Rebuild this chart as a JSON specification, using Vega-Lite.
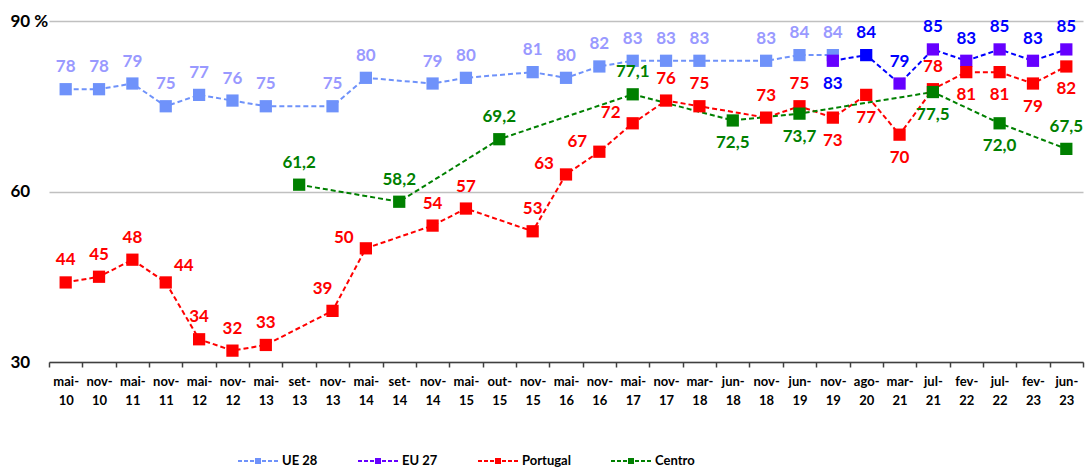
{
  "$schema": "https://vega.github.io/schema/vega-lite/v6.json",
  "width": 1034,
  "height": 341,
  "autosize": "none",
  "padding": {"left": 49, "top": 21, "right": 2, "bottom": 107},
  "background": "white",
  "config": {"view": {"stroke": null}, "font": "Lato"},
  "data": {"values": [
    {"series": "UE 28", "period": "mai-10", "value": 78},
    {"series": "UE 28", "period": "nov-10", "value": 78},
    {"series": "UE 28", "period": "mai-11", "value": 79},
    {"series": "UE 28", "period": "nov-11", "value": 75},
    {"series": "UE 28", "period": "mai-12", "value": 77},
    {"series": "UE 28", "period": "nov-12", "value": 76},
    {"series": "UE 28", "period": "mai-13", "value": 75},
    {"series": "UE 28", "period": "nov-13", "value": 75},
    {"series": "UE 28", "period": "mai-14", "value": 80},
    {"series": "UE 28", "period": "nov-14", "value": 79},
    {"series": "UE 28", "period": "mai-15", "value": 80},
    {"series": "UE 28", "period": "nov-15", "value": 81},
    {"series": "UE 28", "period": "mai-16", "value": 80},
    {"series": "UE 28", "period": "nov-16", "value": 82},
    {"series": "UE 28", "period": "mai-17", "value": 83},
    {"series": "UE 28", "period": "nov-17", "value": 83},
    {"series": "UE 28", "period": "mar-18", "value": 83},
    {"series": "UE 28", "period": "nov-18", "value": 83},
    {"series": "UE 28", "period": "jun-19", "value": 84},
    {"series": "UE 28", "period": "nov-19", "value": 84},
    {"series": "EU 27", "period": "nov-19", "value": 83},
    {"series": "EU 27", "period": "ago-20", "value": 84},
    {"series": "EU 27", "period": "mar-21", "value": 79},
    {"series": "EU 27", "period": "jul-21", "value": 85},
    {"series": "EU 27", "period": "fev-22", "value": 83},
    {"series": "EU 27", "period": "jul-22", "value": 85},
    {"series": "EU 27", "period": "fev-23", "value": 83},
    {"series": "EU 27", "period": "jun-23", "value": 85},
    {"series": "Portugal", "period": "mai-10", "value": 44},
    {"series": "Portugal", "period": "nov-10", "value": 45},
    {"series": "Portugal", "period": "mai-11", "value": 48},
    {"series": "Portugal", "period": "nov-11", "value": 44},
    {"series": "Portugal", "period": "mai-12", "value": 34},
    {"series": "Portugal", "period": "nov-12", "value": 32},
    {"series": "Portugal", "period": "mai-13", "value": 33},
    {"series": "Portugal", "period": "nov-13", "value": 39},
    {"series": "Portugal", "period": "mai-14", "value": 50},
    {"series": "Portugal", "period": "nov-14", "value": 54},
    {"series": "Portugal", "period": "mai-15", "value": 57},
    {"series": "Portugal", "period": "nov-15", "value": 53},
    {"series": "Portugal", "period": "mai-16", "value": 63},
    {"series": "Portugal", "period": "nov-16", "value": 67},
    {"series": "Portugal", "period": "mai-17", "value": 72},
    {"series": "Portugal", "period": "nov-17", "value": 76},
    {"series": "Portugal", "period": "mar-18", "value": 75},
    {"series": "Portugal", "period": "nov-18", "value": 73},
    {"series": "Portugal", "period": "jun-19", "value": 75},
    {"series": "Portugal", "period": "nov-19", "value": 73},
    {"series": "Portugal", "period": "ago-20", "value": 77},
    {"series": "Portugal", "period": "mar-21", "value": 70},
    {"series": "Portugal", "period": "jul-21", "value": 78},
    {"series": "Portugal", "period": "fev-22", "value": 81},
    {"series": "Portugal", "period": "jul-22", "value": 81},
    {"series": "Portugal", "period": "fev-23", "value": 79},
    {"series": "Portugal", "period": "jun-23", "value": 82},
    {"series": "Centro", "period": "set-13", "value": 61.2},
    {"series": "Centro", "period": "set-14", "value": 58.2},
    {"series": "Centro", "period": "out-15", "value": 69.2},
    {"series": "Centro", "period": "mai-17", "value": 77.1},
    {"series": "Centro", "period": "jun-18", "value": 72.5},
    {"series": "Centro", "period": "jun-19", "value": 73.7},
    {"series": "Centro", "period": "jul-21", "value": 77.5},
    {"series": "Centro", "period": "jul-22", "value": 72.0},
    {"series": "Centro", "period": "jun-23", "value": 67.5}
  ]},
  "transform": [
    {"calculate": "datum.series + '|' + datum.period", "as": "key"},
    {"calculate": "datum.series == 'Centro' ? replace(format(datum.value, '.1f'), '.', ',') : format(datum.value, 'd')", "as": "lbl"}
  ],
  "encoding": {
    "x": {
      "field": "period", "type": "ordinal",
      "scale": {"type": "band", "paddingInner": 0, "paddingOuter": 0,
        "domain": ["mai-10","nov-10","mai-11","nov-11","mai-12","nov-12","mai-13","set-13","nov-13","mai-14","set-14","nov-14","mai-15","out-15","nov-15","mai-16","nov-16","mai-17","nov-17","mar-18","jun-18","nov-18","jun-19","nov-19","ago-20","mar-21","jul-21","fev-22","jul-22","fev-23","jun-23"]},
      "axis": {"title": null, "labelAngle": 0,
        "labelExpr": "datum.label ? [split(datum.label, '-')[0] + '-', split(datum.label, '-')[1]] : ''",
        "labelFont": "Lato", "labelFontSize": 13, "labelFontWeight": "bold", "labelColor": "#000000",
        "labelLineHeight": 19, "labelPadding": 8, "labelBaseline": "top", "labelAlign": "center",
        "labelFlush": false, "labelOverlap": false, "labelBound": false,
        "tickBand": "extent", "tickSize": 5, "tickColor": "#404040", "tickWidth": 1.5,
        "domainColor": "#404040", "domainWidth": 1.5, "grid": false}
    },
    "y": {
      "field": "value", "type": "quantitative",
      "scale": {"domain": [30, 90], "nice": false, "zero": false},
      "axis": {"title": null, "values": [30, 60, 90],
        "labelExpr": "datum.value == 90 ? '90 %' : datum.label",
        "labelFont": "Lato", "labelFontSize": 17, "labelFontWeight": "bold", "labelColor": "#000000",
        "labelAlign": "left", "labelPadding": 39, "ticks": false, "tickSize": 0, "domain": false,
        "grid": true, "gridColor": "#C0C0C0", "gridWidth": 1.3}
    }
  },
  "layer": [
    {
      "mark": {"type": "line", "strokeDash": [5, 3], "strokeWidth": 2},
      "encoding": {"color": {"field": "series", "type": "nominal",
        "scale": {"domain": ["UE 28", "EU 27", "Portugal", "Centro"], "range": ["#6F92FA", "#0000FF", "#FF0000", "#008000"]},
        "legend": null}}
    },
    {
      "mark": {"type": "point", "shape": "square", "filled": true, "size": 150, "opacity": 1},
      "encoding": {"color": {
        "condition": {"test": "datum.key == 'EU 27|ago-20'", "value": "#0000FF"},
        "field": "series", "type": "nominal",
        "scale": {"domain": ["UE 28", "EU 27", "Portugal", "Centro"], "range": ["#6F92FA", "#6600FF", "#FF0000", "#008000"]},
        "legend": {"title": null, "orient": "none", "legendX": 189, "legendY": 420, "direction": "horizontal",
          "symbolType": "M-1,-0.05H-0.8V0.05H-1Z M-0.7,-0.05H-0.5V0.05H-0.7Z M-0.4,-0.05H-0.2V0.05H-0.4Z M-0.15,-0.15H0.15V0.15H-0.15Z M0.2,-0.05H0.4V0.05H0.2Z M0.5,-0.05H0.7V0.05H0.5Z M0.8,-0.05H1V0.05H0.8Z",
          "symbolSize": 1600, "symbolStrokeWidth": 0, "symbolOpacity": 1,
          "labelFont": "Lato", "labelFontSize": 13, "labelFontWeight": "bold", "labelColor": "#000000",
          "labelOffset": 4, "columnPadding": 40}
      }}
    },
    {
      "transform": [{"filter": {"not": {"field": "key", "oneOf": ["EU 27|nov-19","Portugal|nov-19","Portugal|ago-20","Portugal|mar-21","Portugal|fev-22","Portugal|jul-22","Portugal|fev-23","Portugal|jun-23","Centro|jun-18","Centro|jun-19","Centro|jul-21","Centro|jul-22","Portugal|mai-14","Portugal|mai-16","Portugal|nov-16","Portugal|mai-17","Portugal|nov-13","Portugal|nov-11"]}}}],
      "mark": {"type": "text", "dy": -22, "fontSize": 17, "fontWeight": "bold", "font": "Lato"},
      "encoding": {"text": {"field": "lbl"}, "color": {"field": "series", "type": "nominal",
        "scale": {"domain": ["UE 28", "EU 27", "Portugal", "Centro"], "range": ["#9999FF", "#0000FF", "#FF0000", "#008000"]}, "legend": null}}
    },
    {
      "transform": [{"filter": {"field": "key", "oneOf": ["EU 27|nov-19","Portugal|nov-19","Portugal|ago-20","Portugal|mar-21","Portugal|fev-22","Portugal|jul-22","Portugal|fev-23","Portugal|jun-23","Centro|jun-18","Centro|jun-19","Centro|jul-21","Centro|jul-22"]}}],
      "mark": {"type": "text", "dy": 23, "fontSize": 17, "fontWeight": "bold", "font": "Lato"},
      "encoding": {"text": {"field": "lbl"}, "color": {"field": "series", "type": "nominal",
        "scale": {"domain": ["UE 28", "EU 27", "Portugal", "Centro"], "range": ["#9999FF", "#0000FF", "#FF0000", "#008000"]}, "legend": null}}
    },
    {
      "transform": [{"filter": {"field": "key", "oneOf": ["Portugal|mai-14","Portugal|mai-16","Portugal|nov-16","Portugal|mai-17"]}}],
      "mark": {"type": "text", "dx": -22, "dy": -10, "fontSize": 17, "fontWeight": "bold", "font": "Lato"},
      "encoding": {"text": {"field": "lbl"}, "color": {"field": "series", "type": "nominal",
        "scale": {"domain": ["UE 28", "EU 27", "Portugal", "Centro"], "range": ["#9999FF", "#0000FF", "#FF0000", "#008000"]}, "legend": null}}
    },
    {
      "transform": [{"filter": {"field": "key", "oneOf": ["Portugal|nov-13"]}}],
      "mark": {"type": "text", "dx": -10, "dy": -22, "fontSize": 17, "fontWeight": "bold", "font": "Lato"},
      "encoding": {"text": {"field": "lbl"}, "color": {"field": "series", "type": "nominal",
        "scale": {"domain": ["UE 28", "EU 27", "Portugal", "Centro"], "range": ["#9999FF", "#0000FF", "#FF0000", "#008000"]}, "legend": null}}
    },
    {
      "transform": [{"filter": {"field": "key", "oneOf": ["Portugal|nov-11"]}}],
      "mark": {"type": "text", "dx": 18, "dy": -16, "fontSize": 17, "fontWeight": "bold", "font": "Lato"},
      "encoding": {"text": {"field": "lbl"}, "color": {"field": "series", "type": "nominal",
        "scale": {"domain": ["UE 28", "EU 27", "Portugal", "Centro"], "range": ["#9999FF", "#0000FF", "#FF0000", "#008000"]}, "legend": null}}
    }
  ],
  "resolve": {"scale": {"color": "independent"}}
}
